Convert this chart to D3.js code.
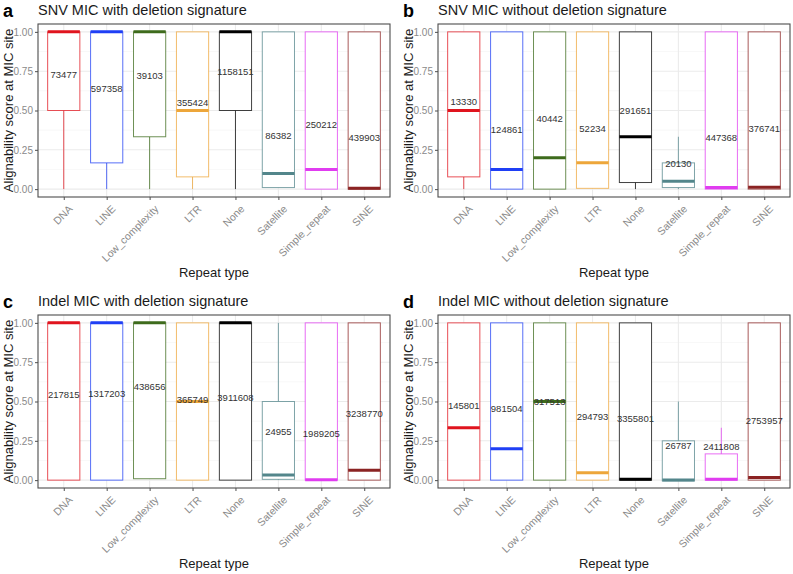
<!DOCTYPE html>
<html>
<head>
<meta charset="utf-8">
<script src="https://cdn.jsdelivr.net/npm/d3@7"></script>
<style>
  body { margin: 0; background: #fff; }
  text { font-family: "Liberation Sans", Arial, sans-serif; }
</style>
</head>
<body>
<svg id="chart"></svg>
<script>
var categories = ["DNA", "LINE", "Low_complexity", "LTR", "None", "Satellite", "Simple_repeat", "SINE"];
var colors = ["#e0141e", "#1f3ff5", "#3e6b1c", "#eda63a", "#000000", "#53868b", "#e03cf0", "#8b2323"];
var yTicks = [0, 0.25, 0.5, 0.75, 1];
var yMinor = [0.125, 0.375, 0.625, 0.875];

// each box: [whisker low, q1, median, q3, whisker high]
var snvDelBoxes = [[0, 0.5, 1, 1, 1], [0, 0.167, 1, 1, 1], [0, 0.333, 1, 1, 1], [0, 0.078, 0.5, 1, 1],
                   [0, 0.5, 1, 1, 1], [0.01, 0.01, 0.1, 1, 1], [0, 0, 0.125, 1, 1], [0, 0, 0.006, 1, 1]];
var snvDelCounts = [73477, 597358, 39103, 355424, 1158151, 86382, 250212, 439903];
var snvDelLabelY = [0.73, 0.64, 0.72, 0.55, 0.75, 0.34, 0.41, 0.33];

var snvNoDelBoxes = [[0, 0.078, 0.5, 1, 1], [0, 0, 0.125, 1, 1], [0, 0, 0.2, 1, 1], [0.005, 0.005, 0.167, 1, 1],
                     [0, 0.042, 0.333, 1, 1], [0, 0.01, 0.05, 0.167, 0.333], [0, 0, 0.01, 1, 1], [0, 0, 0.012, 1, 1]];
var snvNoDelCounts = [13330, 124861, 40442, 52234, 291651, 20130, 447368, 376741];
var snvNoDelLabelY = [0.555, 0.38, 0.445, 0.386, 0.498, 0.159, 0.329, 0.386];

var indelDelBoxes = [[0, 0, 1, 1, 1], [0, 0, 1, 1, 1], [0.009, 0.009, 1, 1, 1], [0, 0, 0.5, 1, 1],
                     [0, 0, 1, 1, 1], [0, 0.005, 0.033, 0.5, 1], [0, 0, 0.003, 1, 1], [0, 0, 0.0625, 1, 1]];
var indelDelCounts = [217815, 1317203, 438656, 365749, 3911608, 24955, 1989205, 3238770];
var indelDelLabelY = [0.545, 0.551, 0.597, 0.513, 0.523, 0.311, 0.297, 0.424];

var indelNoDelBoxes = [[0, 0, 0.333, 1, 1], [0, 0, 0.2, 1, 1], [0, 0, 0.5, 1, 1], [0, 0, 0.047, 1, 1],
                       [0, 0, 0.005, 1, 1], [0, -0.005, 0.001, 0.25, 0.5], [0, 0, 0.005, 0.167, 0.333], [0, 0, 0.016, 1, 1]];
var indelNoDelCounts = [145801, 981504, 317513, 294793, 3355801, 26787, 2411808, 2753957];
var indelNoDelLabelY = [0.474, 0.454, 0.498, 0.403, 0.39, 0.222, 0.212, 0.381];

var panels = [
  {tag: "a", title: "SNV MIC with deletion signature", boxes: snvDelBoxes, counts: snvDelCounts, labelY: snvDelLabelY, dx: 0, dy: 0},
  {tag: "b", title: "SNV MIC without deletion signature", boxes: snvNoDelBoxes, counts: snvNoDelCounts, labelY: snvNoDelLabelY, dx: 400, dy: 0},
  {tag: "c", title: "Indel MIC with deletion signature", boxes: indelDelBoxes, counts: indelDelCounts, labelY: indelDelLabelY, dx: 0, dy: 291},
  {tag: "d", title: "Indel MIC without deletion signature", boxes: indelNoDelBoxes, counts: indelNoDelCounts, labelY: indelNoDelLabelY, dx: 400, dy: 291}
];

var svg = d3.select("#chart").attr("width", 793).attr("height", 574);

// plot area inside each panel
var plotLeft = 38, plotW = 352, plotTop = 24, plotH = 173;

// ggplot style discrete expansion: 0.6 of a step on each side
var step = plotW / 8.2;
var x = d3.scalePoint().domain(categories).range([step * 0.6, plotW - step * 0.6]);
var boxW = step * 0.75;

var y = d3.scaleLinear().domain([-0.05, 1.05]).range([plotH, 0]);

panels.forEach(function(p) {
    var g = svg.append("g").attr("transform", "translate(" + p.dx + "," + p.dy + ")");

    g.append("text").attr("x", 3).attr("y", 16.5)
        .style("font-size", "18px").style("font-weight", "bold").text(p.tag);
    g.append("text").attr("x", plotLeft).attr("y", 15)
        .style("font-size", "14.5px").attr("fill", "#1a1a1a").text(p.title);

    var plot = g.append("g").attr("transform", "translate(" + plotLeft + "," + plotTop + ")");

    // grid
    plot.selectAll(".minor").data(yMinor).enter().append("line")
        .attr("x1", 0).attr("x2", plotW)
        .attr("y1", function(d) { return y(d); }).attr("y2", function(d) { return y(d); })
        .attr("stroke", "#f4f4f4").attr("stroke-width", 0.6);
    plot.selectAll(".major").data(yTicks).enter().append("line")
        .attr("x1", 0).attr("x2", plotW)
        .attr("y1", function(d) { return y(d); }).attr("y2", function(d) { return y(d); })
        .attr("stroke", "#ebebeb").attr("stroke-width", 1.1);
    plot.selectAll(".vgrid").data(categories).enter().append("line")
        .attr("x1", function(d) { return x(d); }).attr("x2", function(d) { return x(d); })
        .attr("y1", 0).attr("y2", plotH)
        .attr("stroke", "#ebebeb").attr("stroke-width", 1.1);

    // boxes
    var box = plot.selectAll(".box").data(p.boxes).enter().append("g")
        .attr("transform", function(d, i) { return "translate(" + x(categories[i]) + ",0)"; });

    box.append("line")
        .attr("y1", function(d) { return y(d[3]); }).attr("y2", function(d) { return y(d[4]); })
        .attr("stroke", function(d, i) { return colors[i]; }).attr("stroke-opacity", 0.75);
    box.append("line")
        .attr("y1", function(d) { return y(d[0]); }).attr("y2", function(d) { return y(d[1]); })
        .attr("stroke", function(d, i) { return colors[i]; }).attr("stroke-opacity", 0.75);
    box.append("rect")
        .attr("x", -boxW / 2).attr("width", boxW)
        .attr("y", function(d) { return y(d[3]); })
        .attr("height", function(d) { return y(d[1]) - y(d[3]); })
        .attr("fill", "#fff")
        .attr("stroke", function(d, i) { return colors[i]; }).attr("stroke-opacity", 0.75)
        .attr("stroke-width", 1);
    box.append("line")
        .attr("x1", -boxW / 2).attr("x2", boxW / 2)
        .attr("y1", function(d) { return y(d[2]); }).attr("y2", function(d) { return y(d[2]); })
        .attr("stroke", function(d, i) { return colors[i]; })
        .attr("stroke-width", 3);

    // counts
    plot.selectAll(".count").data(p.counts).enter().append("text")
        .attr("x", function(d, i) { return x(categories[i]); })
        .attr("y", function(d, i) { return y(p.labelY[i]); })
        .attr("dy", "0.35em")
        .attr("text-anchor", "middle")
        .style("font-size", "9.5px").attr("fill", "#333")
        .text(function(d) { return d; });

    // border
    plot.append("rect").attr("width", plotW).attr("height", plotH)
        .attr("fill", "none").attr("stroke", "#4d4d4d").attr("stroke-width", 1.1);

    // axes
    var yAxis = plot.append("g").call(d3.axisLeft(y).tickValues(yTicks).tickFormat(d3.format(".2f")).tickSize(3).tickPadding(2));
    yAxis.select(".domain").remove();
    yAxis.selectAll("line").attr("stroke", "#4d4d4d");
    yAxis.selectAll("text").attr("fill", "#8a8a8a").style("font-size", "10px");

    var xAxis = plot.append("g").attr("transform", "translate(0," + plotH + ")")
        .call(d3.axisBottom(x).tickSize(3).tickFormat(""));
    xAxis.select(".domain").remove();
    xAxis.selectAll("line").attr("stroke", "#4d4d4d");

    // rotated category labels
    plot.selectAll(".xlab").data(categories).enter().append("text")
        .attr("transform", function(d) { return "translate(" + (x(d) + 4) + "," + (plotH + 7) + ") rotate(-45)"; })
        .attr("dy", "0.75em")
        .attr("text-anchor", "end")
        .attr("fill", "#8a8a8a").style("font-size", "10.5px")
        .text(function(d) { return d; });

    g.append("text").attr("x", plotLeft + plotW / 2).attr("y", 277)
        .attr("text-anchor", "middle").style("font-size", "13px").attr("fill", "#1a1a1a")
        .text("Repeat type");

    g.append("text")
        .attr("transform", "translate(13," + (plotTop + plotH / 2) + ") rotate(-90)")
        .attr("text-anchor", "middle").style("font-size", "13px").attr("fill", "#1a1a1a")
        .text("Alignability score at MIC site");
});
</script>
</body>
</html>
